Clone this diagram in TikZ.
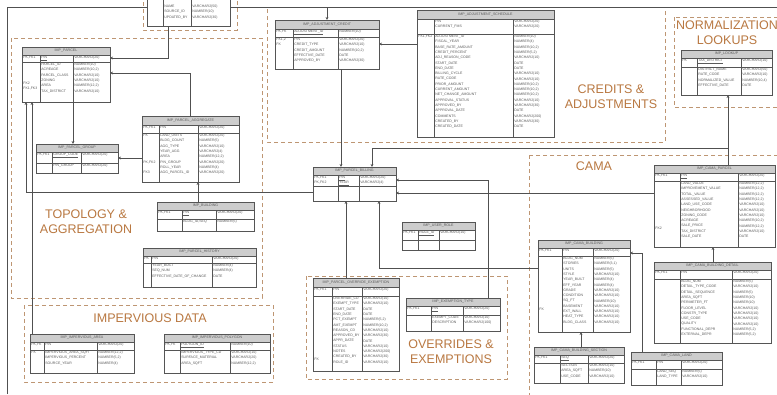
\documentclass[tikz,border=0pt]{standalone}
\usepackage{fontspec}
\setmainfont{Liberation Sans}
\usetikzlibrary{arrows.meta,calc}
\definecolor{tblc}{RGB}{85,85,85}
\definecolor{linec}{RGB}{80,80,80}
\definecolor{hdrc}{RGB}{205,205,205}
\definecolor{shadec}{RGB}{205,205,205}
\definecolor{grpc}{RGB}{190,150,115}
\definecolor{lblc}{RGB}{185,120,65}
\definecolor{textc}{RGB}{90,90,90}
\tikzset{
 tblbox/.style={draw=tblc, fill=white, line width=0.6pt, inner sep=0pt, outer sep=0pt},
 tblline/.style={draw=tblc, line width=0.45pt},
 ttl/.style={font=\fontsize{3.6}{4}\selectfont, text=textc, inner sep=0pt},
 cell/.style={font=\fontsize{3.5}{5.3}\selectfont, text=textc, align=left, inner xsep=1.2pt, inner ysep=0.9pt},
 grp/.style={draw=grpc, dash pattern=on 4pt off 3pt, line width=0.7pt},
 lbl/.style={font=\fontsize{12.5}{15}\selectfont, text=lblc, align=center, inner sep=0pt},
 fk/.style={draw=linec, line width=0.6pt},
 arr/.style={-{Stealth[length=3pt,width=2.8pt]}},
}
% #1 name, #2 x1, #3 y1, #4 x2, #5 y2, #6 header bottom, #7 key-row bottom, #8 col1, #9 col2
\newcommand{\ertable}[9]{%
  \fill[shadec] ($(#2,#3)+(1.3,1.3)$) rectangle ($(#4,#5)+(1.3,1.3)$);
  \node[tblbox, anchor=north west, minimum width={#4-#2}, minimum height={#5-#3}] (#1) at (#2,#3) {};
  \fill[hdrc] (#2,#3) rectangle (#4,#6);
  \draw[tblline] (#2,#6) -- (#4,#6) (#2,#7) -- (#4,#7) (#8,#6) -- (#8,#5) (#9,#6) -- (#9,#5);
  \draw[tblc, line width=0.6pt] (#2,#3) rectangle (#4,#5);
  \coordinate (#1-title) at ({(#2+#4)/2},{(#3+#6)/2});
  \coordinate (#1-k) at (#2,#6);
  \coordinate (#1-n) at (#8,#6);
  \coordinate (#1-t) at (#9,#6);
  \coordinate (#1-kb) at (#2,#7);
  \coordinate (#1-nb) at (#8,#7);
  \coordinate (#1-tb) at (#9,#7);
}
\newcommand{\ertext}[8]{%
  \node[ttl] (#1-tt) at (#1-title) {#2};
  \node[cell, anchor=north west] (#1-c1) at (#1-k) {#3};
  \node[cell, anchor=north west] (#1-c2) at (#1-n) {#4};
  \node[cell, anchor=north west] (#1-c3) at (#1-t) {#5};
  \node[cell, anchor=north west] (#1-c4) at (#1-kb) {#6};
  \node[cell, anchor=north west] (#1-c5) at (#1-nb) {#7};
  \node[cell, anchor=north west] (#1-c6) at (#1-tb) {#8};
}
\begin{document}
\catcode`\_=12
\begin{tikzpicture}[x=1pt,y=-1pt]
\useasboundingbox (0,0) rectangle (777,394);
\clip (0,0) rectangle (777,394);
\fill[white] (0,0) rectangle (777,394);

% frame
\draw[linec, line width=0.8pt] (7,394) -- (7,7) -- (777,7);

% groups
\draw[grp] (143,-5) rectangle (237,30);
\draw[grp] (11,38) rectangle (262,298);
\draw[grp] (267,9) -- (267,142) -- (665,142) -- (665,9);
\draw[grp] (674,17) rectangle (790,107);
\draw[grp] (529,155) rectangle (790,400);
\draw[grp] (24,305) rectangle (273,382);
\draw[grp] (306,276) rectangle (507,379);

% tables
\ertable{t0}{147}{-30}{230}{26}{-14}{-6}{163}{191}
\node[cell, anchor=north west] (t0-c5) at (163,4) {NAME\\SOURCE_ID\\UPDATED_BY};
\node[cell, anchor=north west] (t0-c6) at (191,4) {VARCHAR2(50)\\NUMBER(10)\\VARCHAR2(30)};

\ertable{t1}{22}{47}{110}{102}{55}{62}{40}{73}
\ertext{t1}{IMP_PARCEL}{PK,FK1}{\underline{PIN}}{VARCHAR2(20)}{~\\~\\~\\~\\FK2\\FK1,FK3}{PARCEL_ID\\ACREAGE\\PARCEL_CLASS\\ZONING\\AREA\\TAX_DISTRICT}{NUMBER(10)\\NUMBER(10,2)\\VARCHAR2(10)\\VARCHAR2(10)\\NUMBER(12,2)\\VARCHAR2(10)}

\ertable{t2}{36}{144}{118}{173}{152}{163}{52}{81}
\ertext{t2}{IMP_PARCEL_GROUP}{PK,FK1}{\underline{GROUP_CODE}}{VARCHAR2(20)}{}{PIN_GROUP}{VARCHAR2(20)}

\ertable{t3}{142}{116}{239}{182}{125}{133}{159}{198}
\ertext{t3}{IMP_PARCEL_AGGREGATE}{PK,FK1}{PIN}{VARCHAR2(20)}{FK\\~\\~\\~\\~\\PK,FK2\\~\\FK3}{LAND_UNITS\\BLDG_COUNT\\AGG_TYPE\\YEAR_AGG\\AREA\\PIN_GROUP\\ROLL_YEAR\\AGG_PARCEL_ID}{VARCHAR2(20)\\NUMBER(5)\\VARCHAR2(10)\\VARCHAR2(4)\\NUMBER(12,2)\\VARCHAR2(20)\\NUMBER(4)\\VARCHAR2(20)}

\ertable{t4}{157}{202}{254}{231}{210}{219}{182}{216}
\ertext{t4}{IMP_BUILDING}{PK,FK1}{\underline{PIN}}{VARCHAR2(20)}{}{BLDG_ID,SEQ}{NUMBER(5)}

\ertable{t5}{143}{248}{256}{287}{256}{263}{151}{212}
\ertext{t5}{IMP_PARCEL_HISTORY}{PK}{PIN}{VARCHAR2(20)}{}{YEAR_BUILT\\SEQ_NUM\\EFFECTIVE_DATE_OF_CHANGE}{NUMBER(4)\\NUMBER(4)\\DATE}

\ertable{t6}{30}{334}{134}{373}{342}{350}{44}{97}
\ertext{t6}{IMP_IMPERVIOUS_AREA}{PK,FK}{PIN}{VARCHAR2(20)}{FK}{IMPERVIOUS_AREA_SQFT\\IMPERVIOUS_PERCENT\\SOURCE_YEAR}{NUMBER(12,2)\\NUMBER(5,2)\\NUMBER(4)}

\ertable{t7}{164}{334}{270}{373}{342}{350}{180}{230}
\ertext{t7}{IMP_IMPERVIOUS_POLYGON}{PK,FK}{\underline{POLYGON_ID}}{NUMBER(10)}{}{IMPERVIOUS_TYPE_CD\\SURFACE_MATERIAL\\AREA_SQFT}{VARCHAR2(10)\\VARCHAR2(20)\\NUMBER(12,2)}

\ertable{t8}{275}{20}{379}{69}{29}{37}{293}{338}
\ertext{t8}{IMP_ADJUSTMENT_CREDIT}{PK,FK}{\underline{ADJUSTMENT_ID}}{NUMBER(10)}{FK1,2\\FK}{PIN\\CREDIT_TYPE\\CREDIT_AMOUNT\\EFFECTIVE_DATE\\APPROVED_BY}{VARCHAR2(20)\\VARCHAR2(10)\\NUMBER(10,2)\\DATE\\VARCHAR2(30)}

\ertable{t9}{417}{10}{554}{137}{19}{34}{434}{513}
\ertext{t9}{IMP_ADJUSTMENT_SCHEDULE}{~\\~}{PIN\\CURRENT_FMS}{VARCHAR2(20)\\VARCHAR2(20)}{FK1,FK2}{ADJUSTMENT_ID\\FISCAL_YEAR\\BASE_RATE_AMOUNT\\CREDIT_PERCENT\\ADJ_REASON_CODE\\START_DATE\\END_DATE\\BILLING_CYCLE\\RATE_CODE\\PRIOR_AMOUNT\\CURRENT_AMOUNT\\NET_CHANGE_AMOUNT\\APPROVAL_STATUS\\APPROVED_BY\\APPROVAL_DATE\\COMMENTS\\CREATED_BY\\CREATED_DATE}{NUMBER(10)\\NUMBER(4)\\NUMBER(10,2)\\NUMBER(5,2)\\VARCHAR2(10)\\DATE\\DATE\\VARCHAR2(10)\\VARCHAR2(10)\\NUMBER(10,2)\\NUMBER(10,2)\\NUMBER(10,2)\\VARCHAR2(10)\\VARCHAR2(30)\\DATE\\VARCHAR2(200)\\VARCHAR2(30)\\DATE}

\ertable{t10}{681}{50}{772}{95}{58}{67}{697}{741}
\ertext{t10}{IMP_LOOKUP}{PK}{\underline{TAX_DISTRICT}}{VARCHAR2(10)}{}{DISTRICT_NAME\\RATE_CODE\\NORMALIZED_VALUE\\EFFECTIVE_DATE}{VARCHAR2(50)\\VARCHAR2(10)\\NUMBER(10,4)\\DATE}

\ertable{t11}{313}{167}{396}{201}{175}{186}{338}{359}
\ertext{t11}{IMP_PARCEL_BILLING}{PK,FK1\\PK,FK2}{\underline{PIN}\\\underline{YEAR}}{VARCHAR2(20)\\VARCHAR2(4)}{}{}{}

\ertable{t12}{402}{222}{475}{250}{230}{240}{418}{439}
\ertext{t12}{IMP_USER_ROLE}{PK,FK1}{\underline{ROLE_ID}}{VARCHAR2(10)}{}{}{}

\ertable{t13}{313}{278}{399}{371}{287}{296}{332}{362}
\ertext{t13}{IMP_PARCEL_OVERRIDE_EXEMPTION}{PK,FK1}{PIN}{VARCHAR2(20)}{~\\~\\~\\~\\~\\~\\~\\~\\~\\~\\~\\~\\FK}{OVERRIDE_CD\\EXEMPT_TYPE\\START_DATE\\END_DATE\\PCT_EXEMPT\\AMT_EXEMPT\\REASON_CD\\APPROVED_BY\\APPR_DATE\\STATUS\\NOTES\\CREATED_BY\\ROLE_ID}{VARCHAR2(10)\\VARCHAR2(10)\\DATE\\DATE\\NUMBER(5,2)\\NUMBER(10,2)\\VARCHAR2(10)\\VARCHAR2(30)\\DATE\\VARCHAR2(10)\\VARCHAR2(200)\\VARCHAR2(30)\\VARCHAR2(10)}

\ertable{t14}{406}{298}{500}{331}{306}{315}{431}{463}
\ertext{t14}{IMP_EXEMPTION_TYPE}{PK,FK1}{\underline{PIN}}{VARCHAR2(20)}{}{EXEMPT_CODE\\DESCRIPTION}{VARCHAR2(10)\\VARCHAR2(100)}

\ertable{t15}{654}{165}{775}{247}{173}{181}{680}{738}
\ertext{t15}{IMP_CAMA_PARCEL}{PK,FK1}{\underline{PIN}}{VARCHAR2(20)}{~\\~\\~\\~\\~\\~\\~\\~\\~\\FK2}{LAND_VALUE\\IMPROVEMENT_VALUE\\TOTAL_VALUE\\ASSESSED_VALUE\\LAND_USE_CODE\\NEIGHBORHOOD\\ZONING_CODE\\ACREAGE\\SALE_PRICE\\TAX_DISTRICT\\SALE_DATE}{NUMBER(12,2)\\NUMBER(12,2)\\NUMBER(12,2)\\NUMBER(12,2)\\VARCHAR2(10)\\VARCHAR2(10)\\VARCHAR2(10)\\NUMBER(10,2)\\NUMBER(12,2)\\VARCHAR2(10)\\DATE}

\ertable{t16}{538}{240}{630}{332}{248}{256}{562}{593}
\ertext{t16}{IMP_CAMA_BUILDING}{PK,FK1}{PIN}{VARCHAR2(20)}{~\\~\\~\\~\\~\\~\\~\\~\\~\\~\\FK}{BLDG_NUM\\STORIES\\UNITS\\STYLE\\YEAR_BUILT\\EFF_YEAR\\GRADE\\CONDITION\\SQ_FT\\BASEMENT\\EXT_WALL\\HEAT_TYPE\\BLDG_CLASS}{NUMBER(5)\\NUMBER(3,1)\\NUMBER(5)\\VARCHAR2(10)\\NUMBER(4)\\NUMBER(4)\\VARCHAR2(10)\\VARCHAR2(10)\\NUMBER(10)\\VARCHAR2(10)\\VARCHAR2(10)\\VARCHAR2(10)\\VARCHAR2(10)}

\ertable{t17}{654}{262}{771}{343}{270}{279}{680}{732}
\ertext{t17}{IMP_CAMA_BUILDING_DETAIL}{PK,FK1}{PIN}{VARCHAR2(20)}{}{BLDG_NUM\\DETAIL_TYPE_CODE\\DETAIL_SEQUENCE\\AREA_SQFT\\PERIMETER_FT\\FLOOR_LEVEL\\CONSTR_TYPE\\USE_CODE\\QUALITY\\FUNCTIONAL_DEPR\\EXTERNAL_DEPR}{NUMBER(5)\\VARCHAR2(10)\\NUMBER(5)\\NUMBER(10)\\NUMBER(10)\\VARCHAR2(10)\\VARCHAR2(10)\\VARCHAR2(10)\\VARCHAR2(10)\\NUMBER(5,2)\\NUMBER(5,2)}

\ertable{t18}{534}{347}{624}{383}{355}{363}{560}{588}
\ertext{t18}{IMP_CAMA_BUILDING_SECTION}{PK,FK1}{\underline{SEQ}}{VARCHAR2(20)}{}{SECTION\\AREA_SQFT\\USE_CODE}{VARCHAR2(10)\\NUMBER(10)\\VARCHAR2(10)}

\ertable{t19}{631}{352}{722}{385}{360}{369}{656}{681}
\ertext{t19}{IMP_CAMA_LAND}{PK,FK1}{PIN}{VARCHAR2(20)}{}{LAND_SEQ\\LAND_TYPE}{NUMBER(5)\\VARCHAR2(10)}

% connectors
\coordinate (ftop) at (327,7);
\coordinate (j1) at (728,148);
\draw[fk,arr] (t0.south -| 168,0) |- (t1.east |- 0,58);
\draw[fk,arr] (t3.north -| 190,0) |- (t1.east |- 0,73);
\draw[fk,arr] (t1.south -| 73,0) -- (t2.north -| 73,0);
\draw[fk,arr] (t3.west |- 0,158) -- (t2.east |- 0,158);
\draw[fk,arr] (t11.west |- 0,192) -| (t1.south -| 26,0);
\draw[fk,arr] (t6.north -| 32,0) -- (t1.south -| 32,0);
\draw[fk,arr] (t4.north -| 198,0) -- (t3.south -| 198,0);
\draw[fk,arr] (ftop) -- (t8.north -| ftop);
\draw[fk,arr] (t9.west |- 0,44) -- (t8.east |- 0,44);
\draw[fk,arr] (t8.south -| 341,0) -- (t11.north -| 341,0);
\draw[fk,arr] (t15.north -| 728,0) -- (t10.south -| 728,0);
\draw[fk,arr] (j1) -| (t11.north -| 372,0);
\draw[fk,arr] (t14.north -| 488,0) |- (t11.east |- 0,180);
\draw[fk,arr] (t15.west |- 0,193) -- (t11.east |- 0,193);
\draw[fk,arr] (t13.north -| 346,0) -- (t11.south -| 346,0);
\draw[fk,arr] (t16.west |- 0,268) -| (t11.south -| 379,0);
\draw[fk,arr] (t17.north -| 713,0) -- (t15.south -| 713,0);
\draw[fk,arr] (t18.north -| 581,0) -- (t16.south -| 581,0);
\draw[fk,arr] (t19.north -| 642,0) |- (t16.east |- 0,253);

% labels
\node[lbl] (l1) at (86,222) {TOPOLOGY \&\\AGGREGATION};
\node[lbl] (l2) at (150,318) {IMPERVIOUS DATA};
\node[lbl] (l3) at (451,352) {OVERRIDES \&\\EXEMPTIONS};
\node[lbl] (l4) at (611,97) {CREDITS \&\\ADJUSTMENTS};
\node[lbl] (l5) at (727,33) {NORMALIZATION\\LOOKUPS};
\node[lbl] (l6) at (594,166) {CAMA};
\end{tikzpicture}
\end{document}
